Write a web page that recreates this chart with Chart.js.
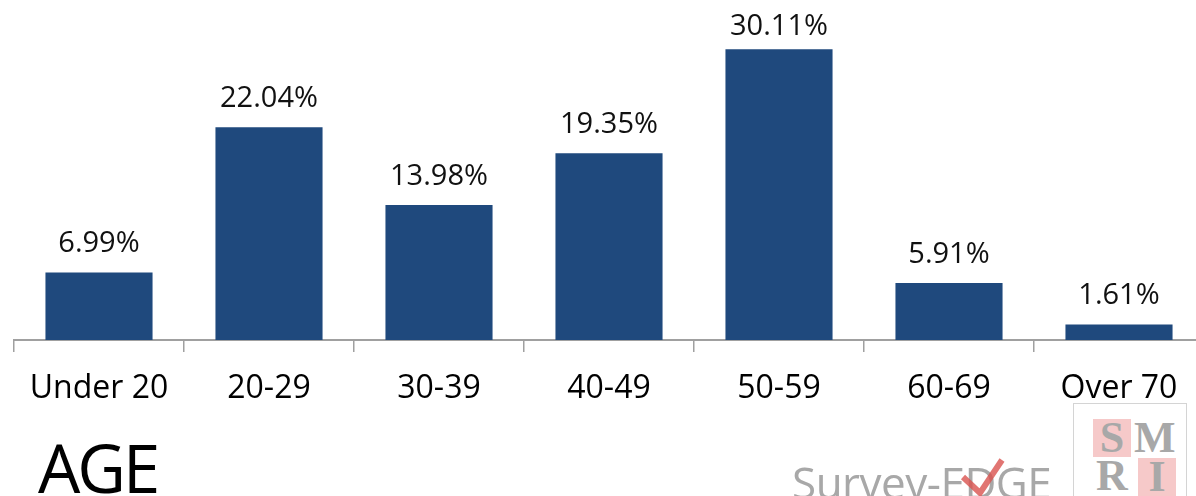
<!DOCTYPE html>
<html>
<head>
<meta charset="utf-8">
<script src="https://cdn.jsdelivr.net/npm/chart.js@4/dist/chart.umd.min.js"></script>
<style>
  html, body { margin: 0; padding: 0; background: #fff; overflow: hidden; width: 1196px; height: 496px; }
  #wrap { position: absolute; left: 0; top: 0; width: 1210px; height: 496px; }
  .title { position: absolute; left: 38px; top: 434px; font: 67px/1 "Open Sans", sans-serif; color: #000; letter-spacing: -3px; }
  .edge { position: absolute; left: 792px; top: 460px; font: 44px/1 "Open Sans", sans-serif; color: #a8a8a8; letter-spacing: -0.5px; white-space: nowrap; }
  .check { position: absolute; left: 955px; top: 452px; }
  .logo { position: absolute; left: 1073px; top: 403px; width: 112px; height: 110px; border: 1px solid #d4d4d4; background: #fff; }
  .cell { position: absolute; width: 38px; height: 38px; font: bold 44px/38px "Liberation Serif", serif; color: #a8a8a8; text-align: center; }
</style>
</head>
<body>
<div id="wrap"><canvas id="ageChart"></canvas></div>
<div class="title">AGE</div>
<div class="edge">Survey-EDGE</div>
<svg class="check" width="60" height="50"><polyline points="8,25 25,41 47,8" fill="none" stroke="#d9534f" stroke-width="6" opacity="0.8"/></svg>
<div class="logo">
  <div class="cell" style="left:19px;top:15px;background:#f6c9c9;">S</div>
  <div class="cell" style="left:60px;top:15px;">M</div>
  <div class="cell" style="left:19px;top:53px;">R</div>
  <div class="cell" style="left:64px;top:54px;background:#f6c9c9;">I</div>
</div>
<script>
// Age distribution
const ageGroups = ['Under 20', '20-29', '30-39', '40-49', '50-59', '60-69', 'Over 70'];
const agePercent = [6.99, 22.04, 13.98, 19.35, 30.11, 5.91, 1.61];

const valueLabels = {
    id: 'valueLabels',
    afterDatasetsDraw(chart) {
        const ctx = chart.ctx;
        const meta = chart.getDatasetMeta(0);
        ctx.save();
        ctx.font = '29px "Open Sans", sans-serif';
        ctx.fillStyle = '#111';
        ctx.textAlign = 'center';
        ctx.textBaseline = 'alphabetic';
        meta.data.forEach((bar, i) => {
            const y = Math.max(bar.y - 20, 35);
            ctx.fillText(agePercent[i].toFixed(2) + '%', bar.x, y);
        });
        ctx.restore();
    }
};

const ctxAge = document.getElementById('ageChart').getContext('2d');
new Chart(ctxAge, {
    type: 'bar',
    data: {
        labels: ageGroups,
        datasets: [{
            data: agePercent,
            backgroundColor: '#1f497d',
            barPercentage: 0.63,
            categoryPercentage: 1
        }]
    },
    options: {
        responsive: true,
        maintainAspectRatio: false,
        animation: false,
        layout: { padding: { top: 2, left: 14, right: 6, bottom: 0 } },
        plugins: {
            legend: { display: false },
            tooltip: { enabled: false }
        },
        scales: {
            x: {
                grid: {
                    offset: true,
                    drawOnChartArea: false,
                    drawTicks: true,
                    tickLength: 12,
                    color: '#a0a0a0',
                    lineWidth: 1.5
                },
                border: { display: true, color: '#a0a0a0', width: 2 },
                ticks: {
                    color: '#000',
                    padding: 18,
                    font: { family: 'Open Sans', size: 32 }
                },
                afterFit: s => { s.height = 156; }
            },
            y: {
                display: false,
                min: 0,
                max: 35
            }
        }
    },
    plugins: [valueLabels]
});
</script>
</body>
</html>
